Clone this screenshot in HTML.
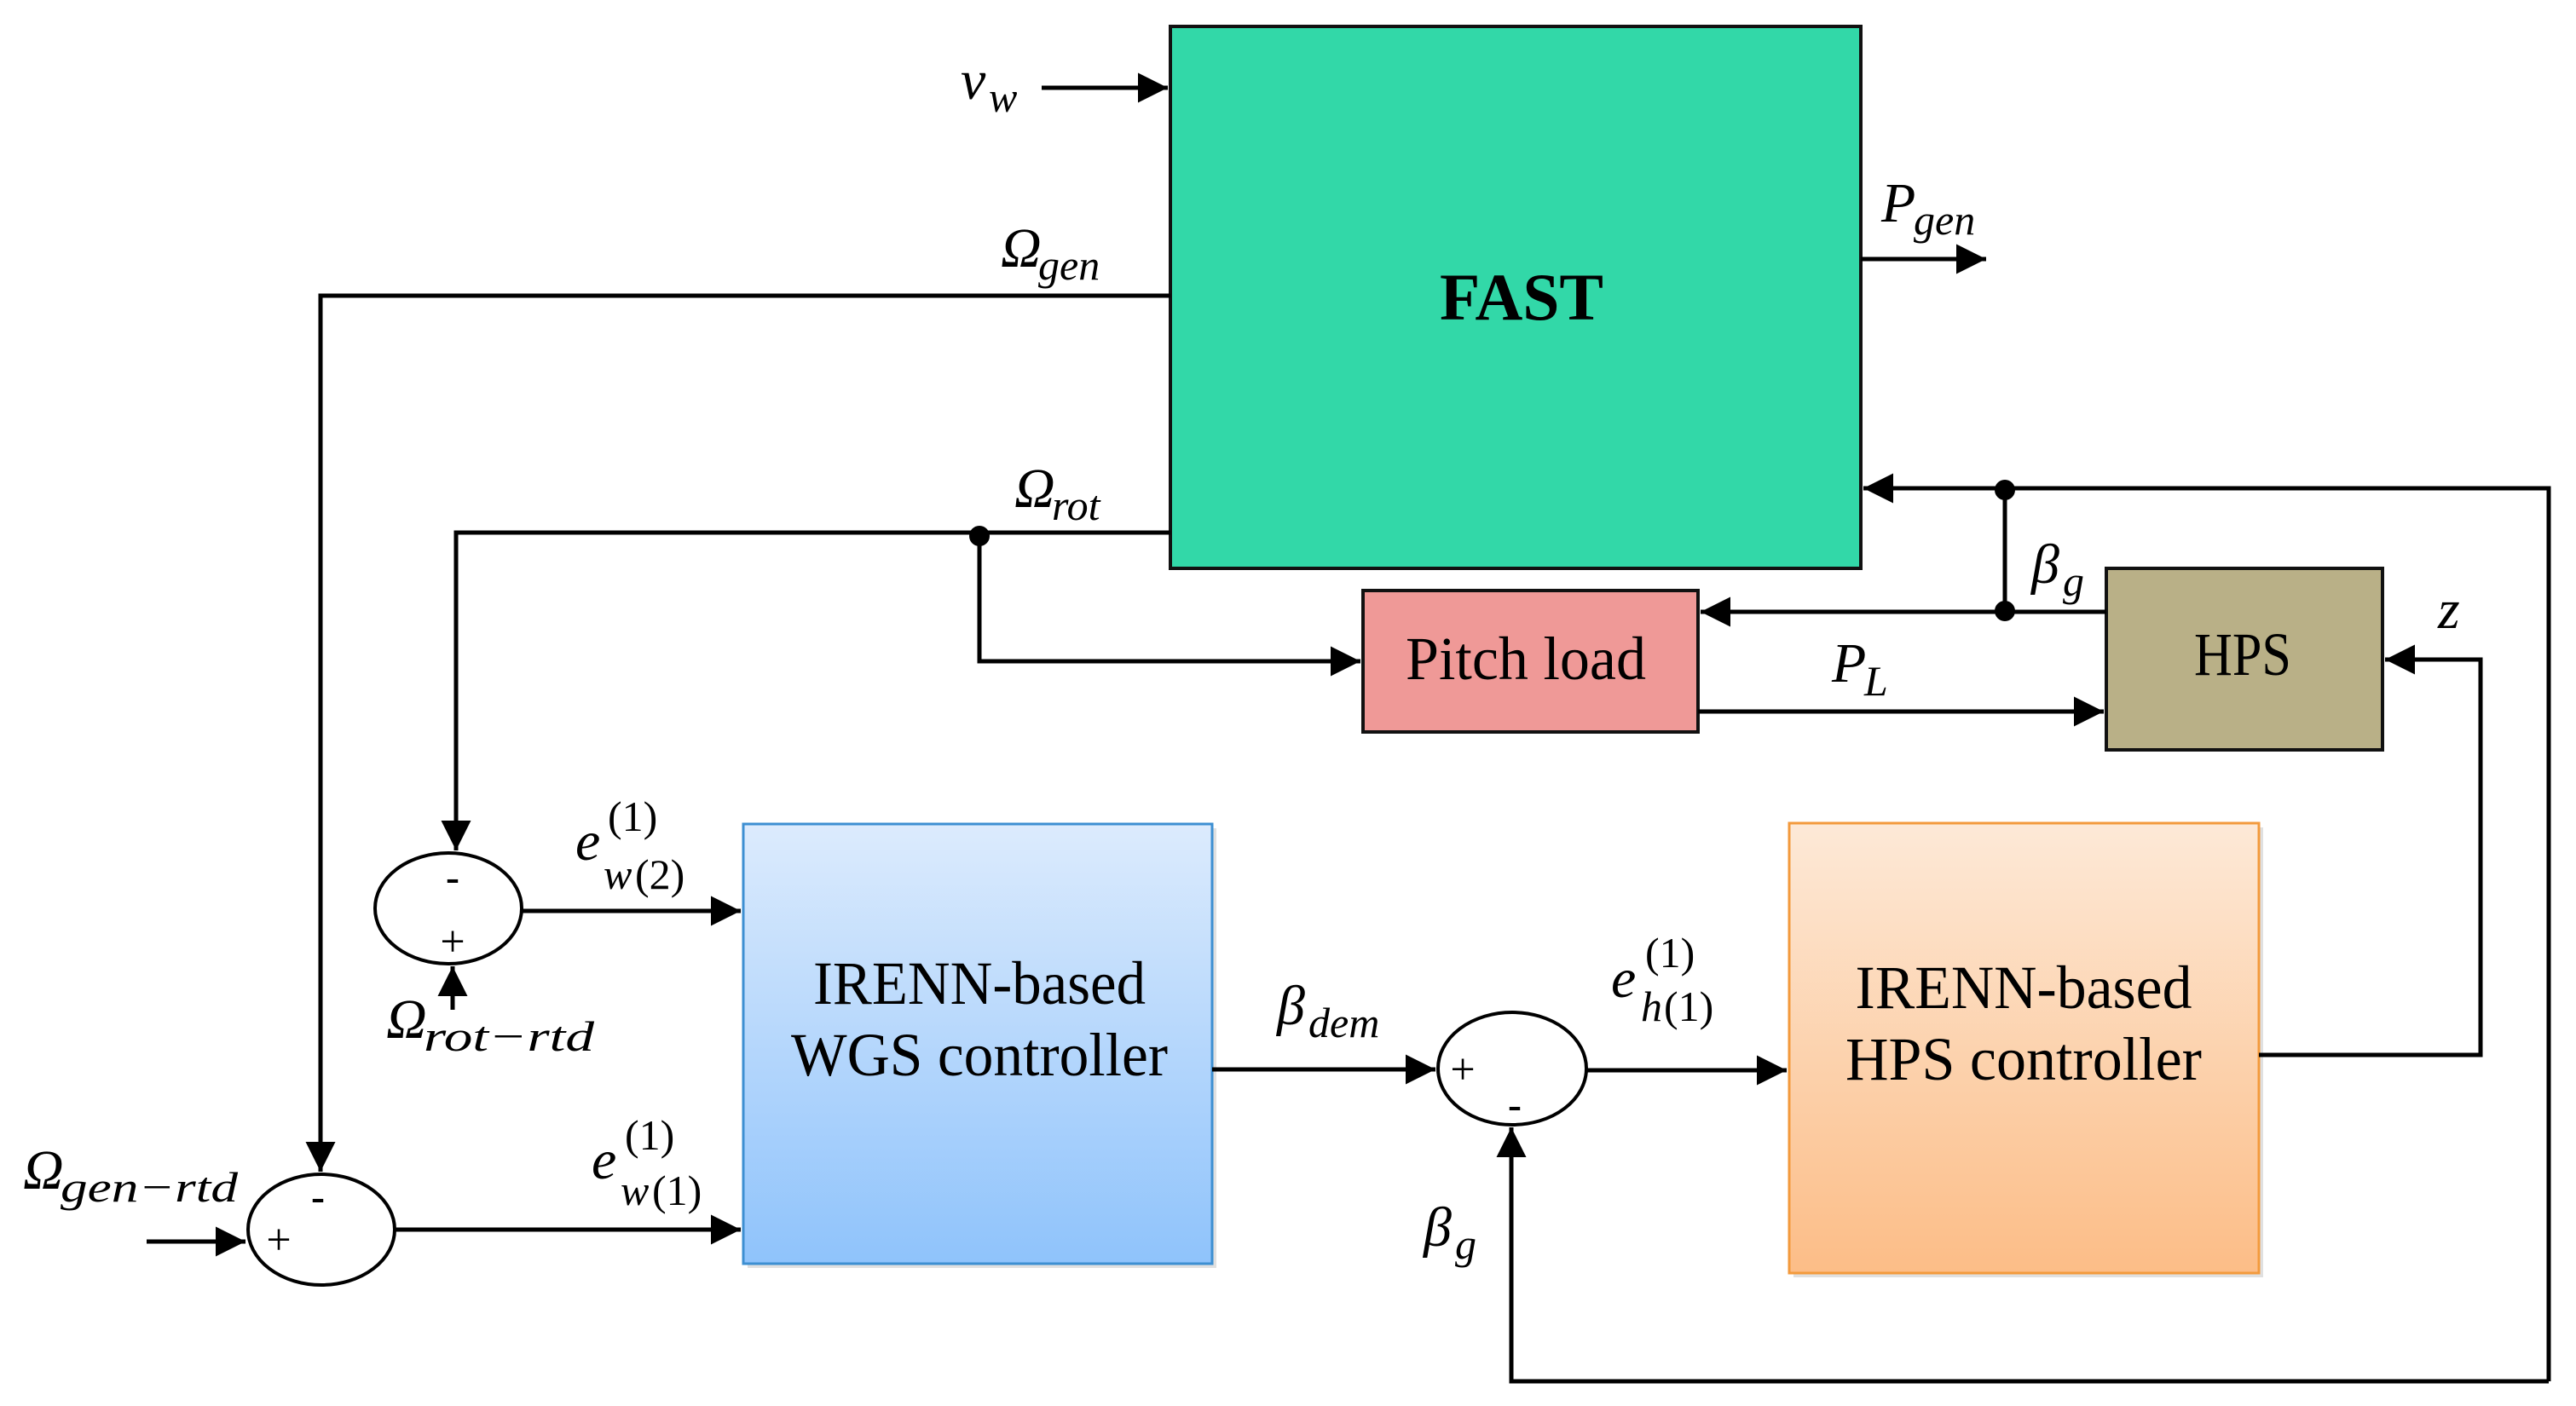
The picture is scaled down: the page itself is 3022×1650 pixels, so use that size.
<!DOCTYPE html>
<html><head><meta charset="utf-8"><style>html,body{margin:0;padding:0;background:#fff}svg{display:block}</style></head>
<body>
<svg width="3022" height="1650" viewBox="0 0 3022 1650" xmlns="http://www.w3.org/2000/svg">
<defs>
<linearGradient id="gb" x1="0" y1="0" x2="0" y2="1"><stop offset="0" stop-color="#dcebfd"/><stop offset="1" stop-color="#8fc3fb"/></linearGradient>
<linearGradient id="go" x1="0" y1="0" x2="0" y2="1"><stop offset="0" stop-color="#fde9d7"/><stop offset="1" stop-color="#fcbd87"/></linearGradient>
<marker id="a" viewBox="0 0 10 10" refX="10" refY="5" markerWidth="7" markerHeight="8" markerUnits="strokeWidth" orient="auto"><path d="M0,0 L10,5 L0,10 z" fill="#000"/></marker>
</defs>
<style>
.l{fill:none;stroke:#000;stroke-width:5}
text{font-family:"Liberation Serif",serif}
.m{font-style:italic;font-size:66px}
.s{font-style:italic;font-size:50px}
.u{font-size:50px}
.b{font-size:72px}
</style>
<rect x="1373" y="31" width="810" height="636" fill="#32d8a8" stroke="#111" stroke-width="4"/>
<text x="1785" y="375" font-size="78" font-weight="bold" text-anchor="middle" textLength="192" lengthAdjust="spacingAndGlyphs">FAST</text>
<rect x="1599" y="693" width="393" height="166" fill="#ef9997" stroke="#111" stroke-width="4"/>
<text x="1790" y="797" class="b" text-anchor="middle" textLength="282" lengthAdjust="spacingAndGlyphs">Pitch load</text>
<rect x="2471" y="667" width="324" height="213" fill="#b9b087" stroke="#111" stroke-width="4"/>
<text x="2631" y="792" class="b" text-anchor="middle" textLength="114" lengthAdjust="spacingAndGlyphs">HPS</text>
<rect x="877" y="972" width="550" height="516" fill="#000" opacity="0.12"/>
<rect x="872" y="967" width="550" height="516" fill="url(#gb)" stroke="#3d8fd2" stroke-width="3"/>
<text x="1149" y="1178" class="b" text-anchor="middle" textLength="390" lengthAdjust="spacingAndGlyphs">IRENN-based</text>
<text x="1149" y="1262" class="b" text-anchor="middle" textLength="442" lengthAdjust="spacingAndGlyphs">WGS controller</text>
<rect x="2104" y="971" width="551" height="528" fill="#000" opacity="0.12"/>
<rect x="2099" y="966" width="551" height="528" fill="url(#go)" stroke="#f39a3c" stroke-width="3"/>
<text x="2374" y="1183" class="b" text-anchor="middle" textLength="395" lengthAdjust="spacingAndGlyphs">IRENN-based</text>
<text x="2374" y="1267" class="b" text-anchor="middle" textLength="418" lengthAdjust="spacingAndGlyphs">HPS controller</text>
<ellipse cx="526" cy="1066" rx="86" ry="65" fill="#fff" stroke="#000" stroke-width="4"/>
<ellipse cx="377" cy="1443" rx="86" ry="65" fill="#fff" stroke="#000" stroke-width="4"/>
<ellipse cx="1774" cy="1254" rx="87" ry="66" fill="#fff" stroke="#000" stroke-width="4"/>
<text x="531" y="1045" font-size="48" text-anchor="middle" font-weight="bold">-</text>
<text x="531" y="1122" font-size="52" text-anchor="middle">+</text>
<text x="373" y="1420" font-size="48" text-anchor="middle" font-weight="bold">-</text>
<text x="327" y="1472" font-size="52" text-anchor="middle">+</text>
<text x="1716" y="1272" font-size="52" text-anchor="middle">+</text>
<text x="1777" y="1312" font-size="48" text-anchor="middle" font-weight="bold">-</text>
<line class="l" x1="1222" y1="103" x2="1370" y2="103" marker-end="url(#a)"/>
<polyline class="l" points="1373,347 376,347 376,1375" marker-end="url(#a)"/>
<polyline class="l" points="1373,625 535,625 535,998" marker-end="url(#a)"/>
<polyline class="l" points="1149,625 1149,776 1596,776" marker-end="url(#a)"/>
<circle cx="1149" cy="629" r="12" fill="#000"/>
<line class="l" x1="2183" y1="304" x2="2330" y2="304" marker-end="url(#a)"/>
<polyline class="l" points="2990,1621 2990,573 2186,573" marker-end="url(#a)"/>
<line class="l" x1="2352" y1="573" x2="2352" y2="717"/>
<circle cx="2352" cy="575" r="12" fill="#000"/>
<circle cx="2352" cy="717" r="12" fill="#000"/>
<line class="l" x1="2471" y1="718" x2="1995" y2="718" marker-end="url(#a)"/>
<line class="l" x1="1992" y1="835" x2="2468" y2="835" marker-end="url(#a)"/>
<polyline class="l" points="2650,1238 2910,1238 2910,774 2798,774" marker-end="url(#a)"/>
<polyline class="l" points="2990,1621 1773,1621 1773,1323" marker-end="url(#a)"/>
<line class="l" x1="612" y1="1069" x2="869" y2="1069" marker-end="url(#a)"/>
<line class="l" x1="463" y1="1443" x2="869" y2="1443" marker-end="url(#a)"/>
<line class="l" x1="531" y1="1185" x2="531" y2="1134" marker-end="url(#a)"/>
<line class="l" x1="172" y1="1457" x2="288" y2="1457" marker-end="url(#a)"/>
<line class="l" x1="1422" y1="1255" x2="1684" y2="1255" marker-end="url(#a)"/>
<line class="l" x1="1861" y1="1256" x2="2096" y2="1256" marker-end="url(#a)"/>
<text x="1127" y="116" class="m">v</text><text x="1160" y="131" class="s">w</text>
<text x="1174" y="313" class="m">Ω</text><text x="1218" y="328" class="s">gen</text>
<text x="1190" y="595" class="m">Ω</text><text x="1234" y="610" class="s">rot</text>
<text x="2207" y="260" class="m">P</text><text x="2245" y="275" class="s">gen</text>
<text x="2383" y="684" class="m">β</text><text x="2420" y="699" class="s">g</text>
<text x="2860" y="737" class="m">z</text>
<text x="2149" y="800" class="m">P</text><text x="2187" y="816" class="s">L</text>
<text x="675" y="1009" class="m">e</text><text x="713" y="975" class="u">(1)</text><text x="708" y="1043" class="s">w</text><text x="745" y="1043" class="u">(2)</text>
<text x="694" y="1383" class="m">e</text><text x="733" y="1349" class="u">(1)</text><text x="728" y="1414" class="s">w</text><text x="765" y="1414" class="u">(1)</text>
<text x="453" y="1218" class="m">Ω</text><text x="497" y="1233" class="s" textLength="200" lengthAdjust="spacingAndGlyphs">rot−rtd</text>
<text x="27" y="1395" class="m">Ω</text><text x="71" y="1410" class="s" textLength="208" lengthAdjust="spacingAndGlyphs">gen−rtd</text>
<text x="1498" y="1202" class="m">β</text><text x="1535" y="1217" class="s">dem</text>
<text x="1890" y="1170" class="m">e</text><text x="1930" y="1135" class="u">(1)</text><text x="1925" y="1198" class="s">h</text><text x="1952" y="1198" class="u">(1)</text>
<text x="1670" y="1462" class="m">β</text><text x="1707" y="1477" class="s">g</text>
</svg>
</body></html>
